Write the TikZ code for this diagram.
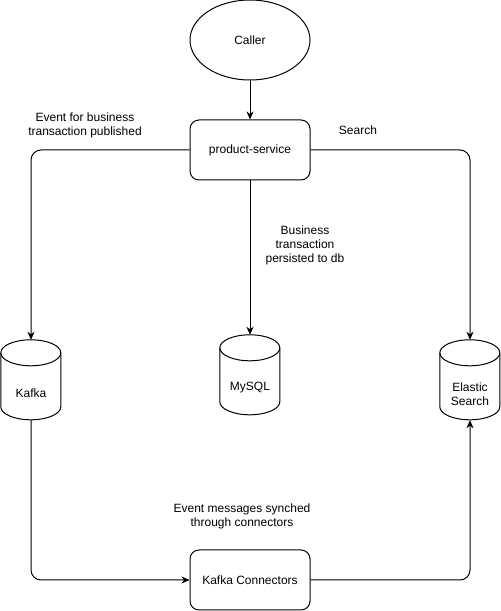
\documentclass[tikz,border=0pt]{standalone}
\usepackage{fontspec}
\setmainfont{Liberation Sans}
\usetikzlibrary{shapes.geometric,arrows.meta,calc}
\tikzset{
  txt/.style={font=\fontsize{12}{14}\selectfont, align=center, inner sep=0pt},
  proc/.style={draw, line width=1pt, rounded corners=9pt, minimum width=120pt, minimum height=60pt, inner sep=0pt, txt},
  start/.style={draw, ellipse, line width=1pt, minimum width=120pt, minimum height=80pt, inner sep=0pt, txt},
  db/.style={minimum width=60pt, minimum height=80pt, inner sep=0pt, draw=none},
  conn/.style={line width=1pt, rounded corners=10pt, -{Stealth[length=8pt,width=7pt,inset=2.5pt]}},
}
\newcommand{\cyldraw}[1]{%
  \draw[line width=1pt] (#1.north west) ++(0,-13) arc[start angle=180,end angle=0,x radius=30pt,y radius=13pt] -- ++(0,-54) arc[start angle=0,end angle=-180,x radius=30pt,y radius=13pt] -- cycle;
  \draw[line width=1pt] (#1.north west) ++(0,-13) arc[start angle=180,end angle=360,x radius=30pt,y radius=13pt];
}
\begin{document}
\begin{tikzpicture}[x=1pt,y=1pt]
\useasboundingbox (0,0) rectangle (501,611);
\node[start] (caller) at (250,571) {Caller};
\node[proc] (ps) at (250,461) {product-service};
\node[db] (kafka) at (31,231) {};
\node[db] (mysql) at (250,236) {};
\node[db] (es) at (470,231) {};
\node[proc] (kc) at (250,31) {Kafka Connectors};
\cyldraw{kafka}
\cyldraw{mysql}
\cyldraw{es}
\node[txt] (kafkatxt) at ($(kafka.center)+(0,-13)$) {Kafka};
\node[txt] (mysqltxt) at ($(mysql.center)+(0,-13)$) {MySQL};
\node[txt] (estxt) at ($(es.center)+(0,-14)$) {Elastic\\Search};
\draw[conn] (caller.south) -- (ps.north);
\draw[conn] (ps.west) -| (kafka.north);
\draw[conn] (ps.south) -- (mysql.north);
\draw[conn] (ps.east) -| (es.north);
\draw[conn] (kafka.south) |- (kc.west);
\draw[conn] (kc.east) -| (es.south);
\node[txt] (l1) at (85,486) {Event for business\\transaction published};
\node[txt] (l2) at (358,481) {Search};
\node[txt] (l3) at (305,366) {Business\\transaction\\persisted to db};
\node[txt] (l4) at (242,95) {Event messages synched\\through connectors};
\end{tikzpicture}
\end{document}
